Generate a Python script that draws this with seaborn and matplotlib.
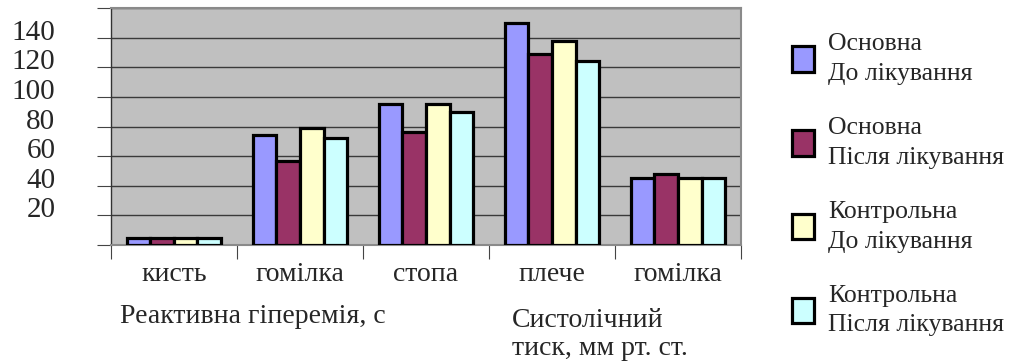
import pandas as pd
import numpy as np
import matplotlib
matplotlib.use("Agg")
import matplotlib.pyplot as plt
import matplotlib.transforms as mtransforms
import seaborn as sns

# дані
categories = ["кисть", "гомілка", "стопа", "плече", "гомілка"]
groups = ["Основна\nДо лікування", "Основна\nПісля лікування",
          "Контрольна\nДо лікування", "Контрольна\nПісля лікування"]
osn_do = [5, 74, 95, 150, 45]
osn_pislia = [5, 57, 76, 129, 48]
kontr_do = [5, 79, 95, 138, 45]
kontr_pislia = [5, 72, 90, 124, 45]
yticks = [20, 40, 60, 80, 100, 120, 140]

colors = ["#9999ff", "#993366", "#ffffcc", "#ccffff"]

rows = []
for g, vals in zip(groups, [osn_do, osn_pislia, kontr_do, kontr_pislia]):
    for i, v in enumerate(vals):
        rows.append({"pos": i, "group": g, "value": v})
data = pd.DataFrame(rows)

sns.set_style("white")
plt.rcParams["font.family"] = ["Liberation Serif", "DejaVu Serif"]

fig = plt.figure(figsize=(10.17, 3.63), dpi=100)
ax = fig.add_axes([0.109, 0.325, 0.6196, 0.653])
ax.set_facecolor("#c0c0c0")

sns.barplot(data=data, x="pos", y="value", hue="group", hue_order=groups,
            palette=colors, width=0.75, gap=0, edgecolor="black",
            linewidth=2.3, saturation=1, ax=ax, zorder=3)

ax.set_ylim(0, 160)
ax.set_xlim(-0.5, 4.5)
ax.set_yticks([0] + yticks + [160])
ax.set_yticklabels([""] + [str(t) for t in yticks] + [""], fontsize=21)
ax.yaxis.grid(True, color="#3a3a3a", linewidth=1.0, zorder=0)
ax.tick_params(axis="y", length=10, width=0.8, color="#444444", pad=30, left=True)
# підписи осі Y трохи вище ліній сітки, як в оригіналі
offset = mtransforms.ScaledTranslation(0, 8 / 100, fig.dpi_scale_trans)
for lab in ax.get_yticklabels():
    lab.set_transform(lab.get_transform() + offset)

ax.set_xticks(range(5))
ax.set_xticklabels(categories, fontsize=20)
ax.set_xticks(np.arange(-0.5, 5, 1), minor=True)
ax.tick_params(axis="x", which="major", length=0, pad=12)
ax.tick_params(axis="x", which="minor", length=10, width=0.8, color="#444444", bottom=True)
ax.set_xlabel("")
ax.set_ylabel("")

for s in ["top", "right", "bottom"]:
    ax.spines[s].set_color("#8a8a8a")
    ax.spines[s].set_linewidth(1.5)
ax.spines["left"].set_color("#333333")
ax.spines["left"].set_linewidth(1.0)

handles, labels = ax.get_legend_handles_labels()
leg = ax.legend(handles, labels, loc="upper left", bbox_to_anchor=(1.044, 0.99),
                frameon=False, fontsize=18.5, labelspacing=1.25, handlelength=0.85,
                handleheight=1.15, handletextpad=0.55,
                prop={"size": 18.5})
for t in leg.get_texts():
    t.set_linespacing(1.45)

fig.text(0.118, 0.128, "Реактивна гіперемія, с", fontsize=20, va="center")
fig.text(0.503, 0.118, "Систолічний", fontsize=20, va="center")
fig.text(0.503, 0.040, "тиск, мм рт. ст.", fontsize=20, va="center")

fig.savefig("out.png", dpi=100)
